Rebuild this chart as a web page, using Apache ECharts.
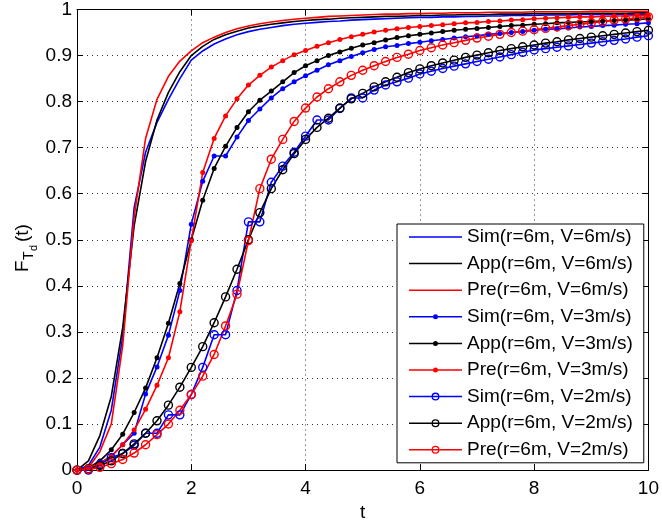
<!DOCTYPE html>
<html>
<head>
<meta charset="utf-8">
<script src="https://cdn.jsdelivr.net/npm/echarts@6/dist/echarts.min.js"></script>
<style>
  html, body { margin: 0; padding: 0; background: #ffffff; }
  #chart { width: 662px; height: 527px; }
</style>
</head>
<body>
<div id="chart"></div>
<script>
// time axis samples (t)
const tValues = [
  0, 0.2, 0.4, 0.6, 0.8, 1, 1.2, 1.4, 1.6, 1.8,
  2, 2.2, 2.4, 2.6, 2.8, 3, 3.2, 3.4, 3.6, 3.8,
  4, 4.2, 4.4, 4.6, 4.8, 5, 5.2, 5.4, 5.6, 5.8,
  6, 6.2, 6.4, 6.6, 6.8, 7, 7.2, 7.4, 7.6, 7.8,
  8, 8.2, 8.4, 8.6, 8.8, 9, 9.2, 9.4, 9.6, 9.8, 10
];

// V = 6 m/s
const sim6 = [
  0, 0.01, 0.05, 0.13, 0.29, 0.57, 0.69, 0.755, 0.805, 0.85,
  0.89, 0.91, 0.925, 0.936, 0.945, 0.952, 0.957, 0.961, 0.965, 0.968,
  0.97, 0.972, 0.974, 0.975, 0.977, 0.978, 0.979, 0.98, 0.981, 0.982,
  0.983, 0.983, 0.984, 0.984, 0.985, 0.985, 0.986, 0.986, 0.987, 0.987,
  0.987, 0.988, 0.988, 0.988, 0.989, 0.989, 0.989, 0.989, 0.99, 0.99, 0.99
];
const app6 = [
  0, 0.02, 0.075, 0.16, 0.31, 0.53, 0.67, 0.76, 0.82, 0.865,
  0.9, 0.92, 0.935, 0.945, 0.953, 0.96, 0.964, 0.968, 0.971, 0.974,
  0.976, 0.978, 0.979, 0.981, 0.982, 0.983, 0.984, 0.985, 0.985, 0.986,
  0.987, 0.987, 0.988, 0.988, 0.989, 0.989, 0.989, 0.99, 0.99, 0.99,
  0.991, 0.991, 0.991, 0.991, 0.992, 0.992, 0.992, 0.992, 0.992, 0.993, 0.993
];
const pre6 = [
  0, 0.005, 0.04, 0.1, 0.27, 0.55, 0.72, 0.805, 0.855, 0.888,
  0.91, 0.928, 0.94, 0.95, 0.958, 0.964, 0.969, 0.973, 0.976, 0.979,
  0.981, 0.983, 0.985, 0.986, 0.987, 0.988, 0.989, 0.99, 0.99, 0.991,
  0.991, 0.992, 0.992, 0.993, 0.993, 0.993, 0.994, 0.994, 0.994, 0.994,
  0.995, 0.995, 0.995, 0.995, 0.995, 0.996, 0.996, 0.996, 0.996, 0.996, 0.996
];

// V = 3 m/s
const sim3 = [
  0, 0.005, 0.015, 0.03, 0.055, 0.08, 0.165, 0.224, 0.293, 0.39,
  0.534, 0.627, 0.682, 0.682, 0.723, 0.759, 0.784, 0.808, 0.828, 0.843,
  0.856, 0.868, 0.88, 0.889, 0.898, 0.906, 0.913, 0.919, 0.922, 0.926,
  0.929, 0.932, 0.935, 0.938, 0.941, 0.943, 0.946, 0.948, 0.95, 0.952,
  0.955, 0.957, 0.958, 0.96, 0.962, 0.963, 0.965, 0.966, 0.968, 0.969, 0.971
];
const app3 = [
  0, 0.005, 0.02, 0.044, 0.078, 0.125, 0.178, 0.244, 0.319, 0.405,
  0.5, 0.586, 0.655, 0.703, 0.744, 0.778, 0.803, 0.823, 0.843, 0.863,
  0.878, 0.889, 0.9, 0.908, 0.916, 0.923, 0.928, 0.934, 0.939, 0.943,
  0.946, 0.949, 0.952, 0.955, 0.957, 0.959, 0.961, 0.963, 0.965, 0.966,
  0.968, 0.969, 0.971, 0.972, 0.973, 0.974, 0.975, 0.976, 0.977, 0.978, 0.98
];
const pre3 = [
  0, 0.005, 0.015, 0.03, 0.055, 0.087, 0.132, 0.184, 0.244, 0.344,
  0.498, 0.646, 0.72, 0.769, 0.806, 0.836, 0.857, 0.875, 0.889, 0.902,
  0.911, 0.92, 0.928, 0.935, 0.941, 0.946, 0.951, 0.955, 0.958, 0.961,
  0.963, 0.965, 0.967, 0.969, 0.971, 0.972, 0.974, 0.975, 0.977, 0.978,
  0.98, 0.981, 0.982, 0.983, 0.984, 0.984, 0.985, 0.986, 0.986, 0.987, 0.987
];

// V = 2 m/s
const sim2 = [
  0, 0, 0.012, 0.027, 0.036, 0.054, 0.08, 0.08, 0.12, 0.12,
  0.164, 0.223, 0.294, 0.294, 0.39, 0.539, 0.539, 0.625, 0.66, 0.69,
  0.725, 0.76, 0.76, 0.785, 0.808, 0.808, 0.825, 0.836, 0.843, 0.851,
  0.86, 0.866, 0.872, 0.877, 0.882, 0.887, 0.892, 0.897, 0.902, 0.907,
  0.912, 0.915, 0.918, 0.921, 0.924, 0.927, 0.93, 0.933, 0.936, 0.94, 0.943
];
const app2 = [
  0, 0.003, 0.01, 0.02, 0.036, 0.057, 0.08, 0.107, 0.141, 0.18,
  0.223, 0.268, 0.32, 0.376, 0.436, 0.5, 0.559, 0.611, 0.652, 0.687,
  0.718, 0.744, 0.764, 0.786, 0.806, 0.818, 0.832, 0.843, 0.853, 0.863,
  0.871, 0.878, 0.884, 0.89, 0.896, 0.901, 0.906, 0.911, 0.915, 0.919,
  0.923, 0.927, 0.93, 0.934, 0.937, 0.94, 0.943, 0.946, 0.949, 0.952, 0.955
];
const pre2 = [
  0, 0.002, 0.006, 0.014, 0.023, 0.037, 0.055, 0.077, 0.1, 0.13,
  0.164, 0.204, 0.251, 0.313, 0.382, 0.498, 0.611, 0.675, 0.718, 0.757,
  0.786, 0.81, 0.828, 0.843, 0.857, 0.868, 0.878, 0.887, 0.896, 0.903,
  0.911, 0.917, 0.923, 0.928, 0.933, 0.938, 0.942, 0.946, 0.95, 0.953,
  0.956, 0.959, 0.962, 0.965, 0.968, 0.971, 0.974, 0.977, 0.979, 0.982, 0.984
];

const seriesNames = [
  'Sim(r=6m, V=6m/s)', 'App(r=6m, V=6m/s)', 'Pre(r=6m, V=6m/s)',
  'Sim(r=6m, V=3m/s)', 'App(r=6m, V=3m/s)', 'Pre(r=6m, V=3m/s)',
  'Sim(r=6m, V=2m/s)', 'App(r=6m, V=2m/s)', 'Pre(r=6m, V=2m/s)'
];
const seriesValues = [sim6, app6, pre6, sim3, app3, pre3, sim2, app2, pre2];
const xTicks = [0, 2, 4, 6, 8, 10];

const BLUE = '#0000ff';
const BLACK = '#000000';
const RED = '#ff0000';
const colors = [BLUE, BLACK, RED, BLUE, BLACK, RED, BLUE, BLACK, RED];
const markers = ['none', 'none', 'none', 'dot', 'dot', 'dot', 'ring', 'ring', 'ring'];
const FONT = 'Liberation Sans, Arial, Helvetica, sans-serif';

// legend icons: line sample with marker in the middle (53 x 20 box)
const ICONS = {
  none: 'path://M0,9.25L53,9.25L53,10.75L0,10.75Z',
  dot: 'path://M0,9.25L24,9.25L24,10.75L0,10.75Z M29,9.25L53,9.25L53,10.75L29,10.75Z ' +
       'M24,10A2.5,2.5 0 1 1 29,10A2.5,2.5 0 1 1 24,10Z',
  ring: 'path://M0,9.25L22.5,9.25L22.5,10.75L0,10.75Z M30.5,9.25L53,9.25L53,10.75L30.5,10.75Z ' +
        'M22.5,10A4,4 0 1 1 30.5,10A4,4 0 1 1 22.5,10Z ' +
        'M23.8,10A2.7,2.7 0 1 0 29.2,10A2.7,2.7 0 1 0 23.8,10Z ' +
        'M23.8,9.25L29.2,9.25L29.2,10.75L23.8,10.75Z'
};

function buildSeries() {
  return seriesValues.map((vals, i) => {
    const data = tValues.map((t, k) => [t, vals[k]]);
    const m = markers[i];
    const s = {
      type: 'line',
      name: seriesNames[i],
      data: data,
      color: colors[i],
      lineStyle: { color: colors[i], width: 1.6 },
      showAllSymbol: true,
      animation: false,
      emphasis: { disabled: true }
    };
    if (m === 'none') {
      s.symbol = 'none';
    } else if (m === 'dot') {
      s.symbol = 'circle';
      s.symbolSize = 5;
      s.itemStyle = { color: colors[i], borderWidth: 0 };
    } else {
      s.symbol = 'circle';
      s.symbolSize = 8;
      s.itemStyle = { color: 'rgba(0,0,0,0)', borderColor: colors[i], borderWidth: 1.4 };
    }
    return s;
  });
}

const chart = echarts.init(document.getElementById('chart'), null, { renderer: 'canvas' });

const tickLabel = { color: '#000', fontSize: 19, fontFamily: FONT };

const option = {
  animation: false,
  backgroundColor: '#ffffff',
  grid: { left: 77, right: 10, top: 7, bottom: 54, containLabel: false },
  legend: {
    orient: 'vertical',
    left: 397,
    top: 224,
    padding: [3, 11, 3, 12],
    itemWidth: 53,
    itemHeight: 20,
    itemGap: 6.6,
    backgroundColor: '#ffffff',
    borderColor: '#000000',
    borderWidth: 1,
    borderRadius: 0,
    selectedMode: false,
    textStyle: { color: '#000', fontSize: 19, fontFamily: FONT, lineHeight: 20 },
    data: seriesNames.map((n, i) => ({
      name: n,
      icon: ICONS[markers[i]],
      itemStyle: { color: colors[i], borderWidth: 0 }
    }))
  },
  xAxis: [
    {
      type: 'value',
      min: 0,
      max: 10,
      interval: 2,
      name: 't',
      nameLocation: 'middle',
      nameGap: 29,
      nameTextStyle: { color: '#000', fontSize: 19, fontFamily: FONT },
      axisLine: { show: true, onZero: false, lineStyle: { color: '#000', width: 1 } },
      axisTick: { show: true, inside: true, length: 6, lineStyle: { color: '#000' } },
      axisLabel: Object.assign({ margin: 9, formatter: v => (xTicks.includes(v) ? String(v) : '') }, tickLabel),
      splitLine: { show: true, lineStyle: { color: '#333', width: 1, type: [1, 4] } }
    },
    {
      type: 'value',
      position: 'top',
      min: 0,
      max: 10,
      interval: 2,
      axisLine: { show: true, onZero: false, lineStyle: { color: '#000', width: 1 } },
      axisTick: { show: true, inside: true, length: 6, lineStyle: { color: '#000' } },
      axisLabel: { show: false },
      splitLine: { show: false }
    }
  ],
  yAxis: [
    {
      type: 'value',
      min: 0,
      max: 1,
      interval: 0.1,
      axisLine: { show: true, onZero: false, lineStyle: { color: '#000', width: 1 } },
      axisTick: { show: true, inside: true, length: 6, lineStyle: { color: '#000' } },
      axisLabel: Object.assign({ margin: 5, formatter: v => String(+v.toFixed(1)) }, tickLabel),
      splitLine: { show: true, lineStyle: { color: '#333', width: 1, type: [1, 4] } }
    },
    {
      type: 'value',
      position: 'right',
      min: 0,
      max: 1,
      interval: 0.1,
      axisLine: { show: true, onZero: false, lineStyle: { color: '#000', width: 1 } },
      axisTick: { show: true, inside: true, length: 6, lineStyle: { color: '#000' } },
      axisLabel: { show: false },
      splitLine: { show: false }
    }
  ],
  // y-axis title F_{T_d}(t), rotated
  graphic: [
    {
      type: 'group',
      x: 23,
      y: 272,
      rotation: Math.PI / 2,
      children: [
        { type: 'text', x: 0, y: 0, style: { text: 'F', font: '19px ' + FONT, fill: '#000', verticalAlign: 'middle' } },
        { type: 'text', x: 12, y: 6, style: { text: 'T', font: '14px ' + FONT, fill: '#000', verticalAlign: 'middle' } },
        { type: 'text', x: 21, y: 11, style: { text: 'd', font: '11px ' + FONT, fill: '#000', verticalAlign: 'middle' } },
        { type: 'text', x: 30, y: 0, style: { text: '(t)', font: '19px ' + FONT, fill: '#000', verticalAlign: 'middle' } }
      ]
    }
  ],
  series: buildSeries()
};

chart.setOption(option);
</script>
</body>
</html>
